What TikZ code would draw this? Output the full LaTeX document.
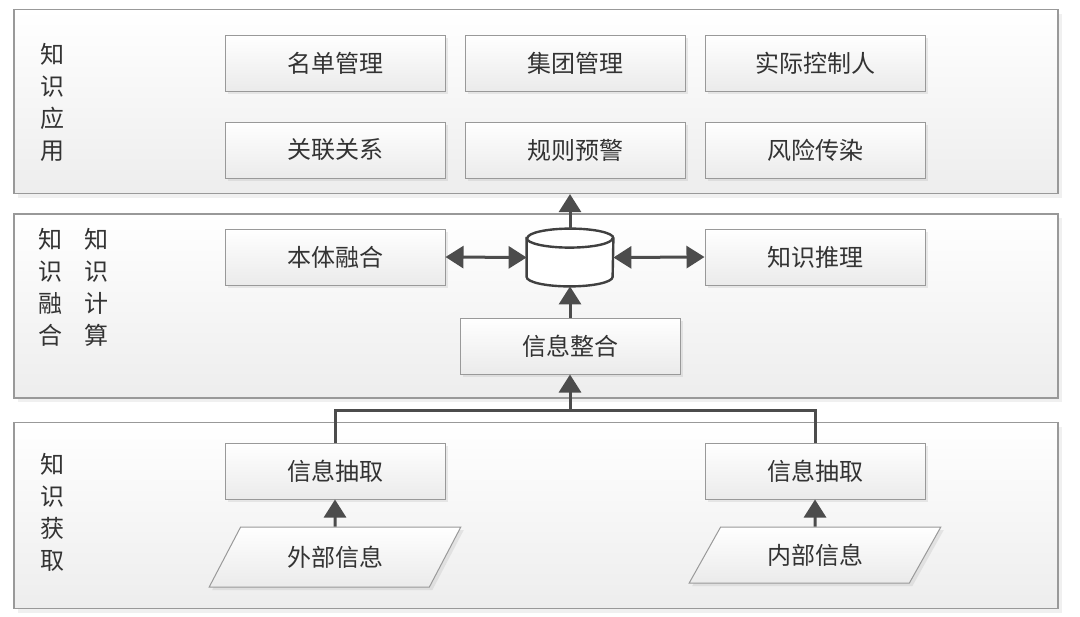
\documentclass[tikz,border=0pt]{standalone}
\usepackage{fontspec}
\setmainfont{Noto Sans CJK SC}
\usetikzlibrary{shapes.geometric, arrows.meta, shadows}

\tikzset{
  panel/.style={rectangle, draw=black!40, top color=white, bottom color=black!7, line width=0.6pt,
    drop shadow={opacity=0.12, shadow xshift=2pt, shadow yshift=-2pt}, minimum width=522pt, minimum height=92pt},
  item/.style={rectangle, draw=black!40, top color=white, bottom color=black!8, line width=0.5pt,
    drop shadow={opacity=0.15, shadow xshift=1.5pt, shadow yshift=-1.5pt},
    minimum width=110pt, minimum height=28pt, font=\fontsize{12}{12}\selectfont, text=black!80},
  source/.style={item, trapezium, trapezium left angle=63, trapezium right angle=117,
    trapezium stretches=true, minimum width=126pt, minimum height=30pt},
  store/.style={rectangle, inner sep=0pt, minimum width=43pt, minimum height=28.5pt},
  dbline/.style={draw=black!75, line width=1.2pt},
  side/.style={align=center, font=\fontsize{12}{16}\selectfont, text=black!80},
  link/.style={draw=black!70, line width=1.5pt},
  arrow/.style={link, -{Triangle[length=9pt, width=11pt]}},
  both/.style={link, {Triangle[length=9pt, width=11pt]}-{Triangle[length=9pt, width=11pt]}},
}

\begin{document}
\begin{tikzpicture}[x=0.5pt, y=-0.5pt]
\useasboundingbox (0, 0) rectangle (1080, 616);

% three layers
\node[panel] (app) at (536, 101.5) {};
\node[panel] (fuse) at (536, 306) {};
\node[panel, minimum height=93pt] (acq) at (536, 515.5) {};

\node[side] (applabel) at (52, 102) {知\\识\\应\\用};
\node[side] (fuselabel) at (50, 287) {知\\识\\融\\合};
\node[side] (calclabel) at (96, 287) {知\\识\\计\\算};
\node[side] (acqlabel) at (52, 512) {知\\识\\获\\取};

% knowledge application
\node[item] (list) at (335, 63) {名单管理};
\node[item] (group) at (575, 63) {集团管理};
\node[item] (owner) at (815, 63) {实际控制人};
\node[item] (relation) at (335, 150) {关联关系};
\node[item] (rule) at (575, 150) {规则预警};
\node[item] (risk) at (815, 150) {风险传染};

% knowledge fusion and computing
\node[item] (ontology) at (335, 257) {本体融合};
\node[store] (db) at (570, 257.5) {};
\draw[dbline, fill=white] ([yshift=-4.75pt]db.north west) -- ([yshift=4.75pt]db.south west)
  arc[start angle=180, end angle=360, x radius=21.5pt, y radius=4.75pt]
  -- ([yshift=-4.75pt]db.north east)
  arc[start angle=0, end angle=180, x radius=21.5pt, y radius=4.75pt] -- cycle;
\draw[dbline] ([yshift=-4.75pt]db.north west) arc[start angle=180, end angle=360, x radius=21.5pt, y radius=4.75pt];
\node[item] (reason) at (815, 257) {知识推理};
\node[item] (merge) at (570, 346) {信息整合};

% knowledge acquisition
\node[item] (extractl) at (335, 471) {信息抽取};
\node[item] (extractr) at (815, 471) {信息抽取};
\node[source] (outer) at (335, 557) {外部信息};
\node[source, minimum height=28pt] (inner) at (815, 555) {内部信息};
\coordinate (join) at (570, 410);

\draw[arrow] (db.north) -- (db.north |- app.south);
\draw[both] (ontology.east) -- (db.west);
\draw[both] (db.east) -- (reason.west);
\draw[arrow] (merge.north) -- (db.south);
\draw[link] (extractl.north) |- (join) -| (extractr.north);
\draw[arrow] (join) -- (merge.south);
\draw[arrow] (outer.north) -- (extractl.south);
\draw[arrow] (inner.north) -- (extractr.south);
\end{tikzpicture}
\end{document}
